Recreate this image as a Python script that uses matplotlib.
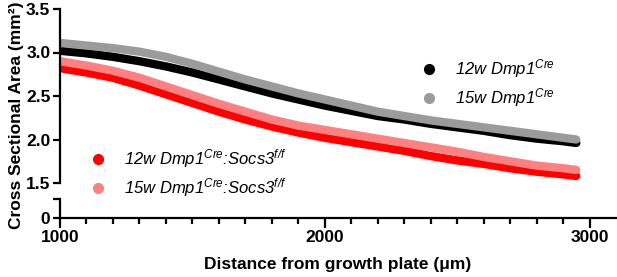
import matplotlib
matplotlib.use("Agg")
import matplotlib.pyplot as plt

# distance from growth plate (um) and cross sectional area (mm^2)
distance = [1000, 1100, 1200, 1300, 1400, 1500, 1600, 1700, 1800, 1900, 2000,
            2100, 2200, 2300, 2400, 2500, 2600, 2700, 2800, 2900, 2950]
ctrl_12w = [3.02, 2.99, 2.95, 2.90, 2.84, 2.77, 2.69, 2.61, 2.53, 2.46, 2.39,
            2.33, 2.27, 2.23, 2.18, 2.14, 2.10, 2.05, 2.01, 1.98, 1.96]
ctrl_15w = [3.11, 3.08, 3.05, 3.01, 2.95, 2.87, 2.78, 2.69, 2.61, 2.53, 2.46,
            2.39, 2.32, 2.27, 2.22, 2.18, 2.14, 2.10, 2.06, 2.02, 2.00]
socs_12w = [2.82, 2.77, 2.71, 2.62, 2.52, 2.42, 2.32, 2.23, 2.15, 2.08, 2.02,
            1.97, 1.92, 1.87, 1.81, 1.76, 1.72, 1.67, 1.63, 1.60, 1.58]
socs_15w = [2.90, 2.85, 2.79, 2.71, 2.61, 2.51, 2.41, 2.32, 2.23, 2.16, 2.11,
            2.06, 2.01, 1.96, 1.91, 1.86, 1.80, 1.75, 1.70, 1.67, 1.65]

labels = ["12w Dmp1$^{Cre}$", "15w Dmp1$^{Cre}$",
          "12w Dmp1$^{Cre}$:Socs3$^{f/f}$", "15w Dmp1$^{Cre}$:Socs3$^{f/f}$"]
colors = ["#000000", "#9b9b9b", "#ff0000", "#ff8080"]
yticks_top = [1.5, 2.0, 2.5, 3.0, 3.5]

plt.rcParams["font.family"] = ["Liberation Sans", "DejaVu Sans"]
plt.rcParams["mathtext.fontset"] = "custom"
plt.rcParams["mathtext.it"] = "Liberation Sans:italic"
plt.rcParams["mathtext.rm"] = "Liberation Sans:italic"
plt.rcParams["mathtext.default"] = "it"

W, H = 617, 277
fig = plt.figure(figsize=(W / 100, H / 100), dpi=100)
x0, x1 = 60 / W, 616 / W
ax = fig.add_axes([x0, 1 - 183 / H, x1 - x0, (183 - 9) / H])
axb = fig.add_axes([x0, 1 - 218 / H, x1 - x0, (218 - 199) / H])

lw = 6
for ys, c in zip([ctrl_12w, ctrl_15w, socs_12w, socs_15w], colors):
    ax.plot(distance, ys, color=c, lw=lw, solid_capstyle="round",
            solid_joinstyle="round")

for a in (ax, axb):
    a.set_xlim(1000, 3100)
    for s in ("top", "right"):
        a.spines[s].set_visible(False)
    a.spines["left"].set_linewidth(1.6)
    a.tick_params(axis="y", width=1.6, length=5, labelsize=12.5, pad=2)

ax.set_ylim(1.5, 3.5)
ax.set_yticks(yticks_top)
ax.set_yticklabels([f"{v:.1f}" for v in yticks_top], fontweight="bold")
ax.spines["bottom"].set_visible(False)
ax.tick_params(axis="x", bottom=False, labelbottom=False)
ax.spines["left"].set_bounds(1.5, 3.5)

axb.set_ylim(0, 0.5)
axb.set_yticks([0, 0.5])
axb.set_yticklabels(["0", ""], fontweight="bold")
axb.spines["bottom"].set_linewidth(1.6)
axb.spines["bottom"].set_bounds(1000, 3100)
axb.set_xticks([1000, 2000, 3000])
axb.set_xticks(range(1100, 3100, 100), minor=True)
axb.set_xticklabels(["1000", "2000", "3000"], fontweight="bold")
axb.tick_params(axis="x", which="major", width=1.6, length=7, labelsize=12.5, pad=2)
axb.tick_params(axis="x", which="minor", width=1.6, length=4)
axb.set_xlabel("Distance from growth plate (μm)", fontweight="bold", fontsize=12.5,
               labelpad=8)

fig.text(0.026, 1 - 115 / H, "Cross Sectional Area (mm²)", rotation=90,
         ha="center", va="center", fontweight="bold", fontsize=12.5)

# legend entries, drawn as marker + italic text in figure pixels
legend_pos = [(429, 69), (429, 98), (98, 159), (98, 188)]
for (px, py), lab, c in zip(legend_pos, labels, colors):
    fig.lines.append(plt.Line2D([px / W], [1 - py / H], marker="o", ms=7,
                                color=c, transform=fig.transFigure))
    fig.text((px + 26) / W, 1 - py / H, lab, fontstyle="italic", fontsize=12,
             ha="left", va="center")

fig.savefig("out.png", dpi=100)
